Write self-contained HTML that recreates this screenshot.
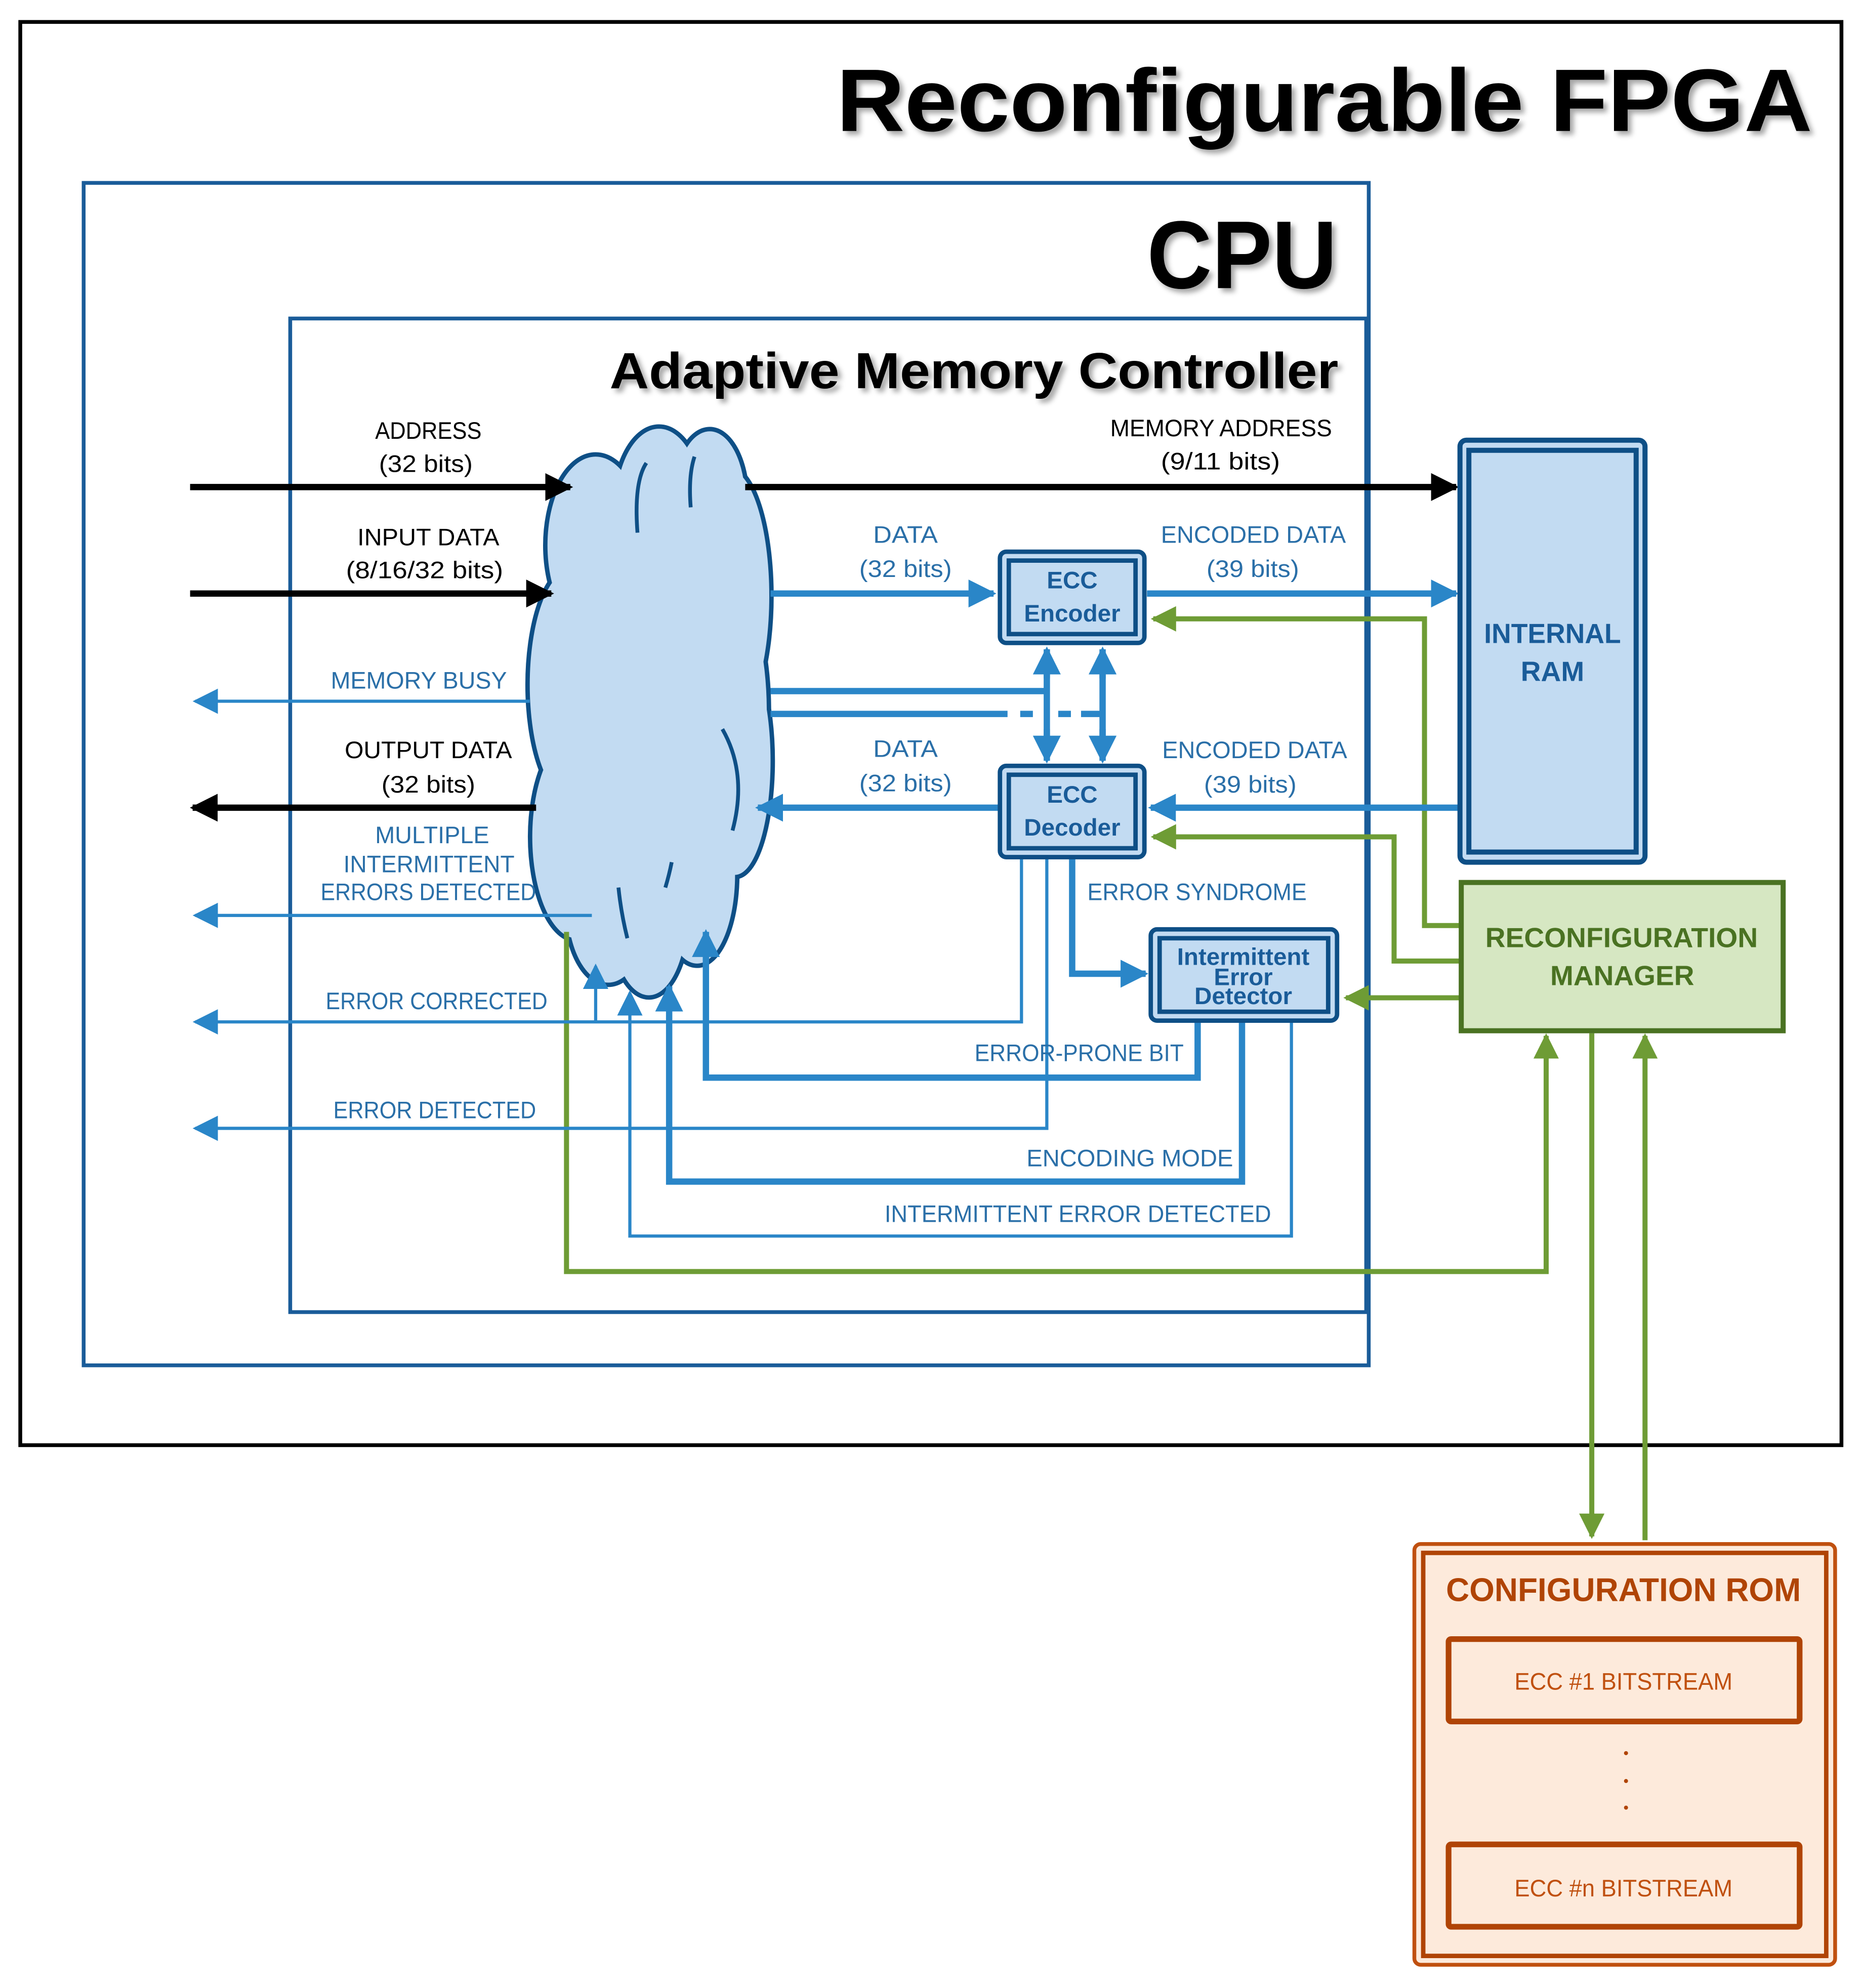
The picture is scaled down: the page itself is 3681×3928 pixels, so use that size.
<!DOCTYPE html>
<html><head><meta charset="utf-8"><style>
html,body{margin:0;padding:0;background:#fff;}
svg{display:block;}
text{font-family:"Liberation Sans",sans-serif;}
</style></head><body>
<svg width="3681" height="3928" viewBox="0 0 1470 1568" xmlns="http://www.w3.org/2000/svg">
<defs>
<marker id="kb" viewBox="0 0 10 10" refX="9" refY="5" markerWidth="22" markerHeight="22" orient="auto" markerUnits="userSpaceOnUse"><path d="M0,0L10,5L0,10z" fill="#000"/></marker>
<marker id="bb" viewBox="0 0 10 10" refX="9" refY="5" markerWidth="22" markerHeight="22" orient="auto" markerUnits="userSpaceOnUse"><path d="M0,0L10,5L0,10z" fill="#2a86c8"/></marker>
<marker id="bs" viewBox="0 0 10 10" refX="9" refY="5" markerWidth="20" markerHeight="20" orient="auto" markerUnits="userSpaceOnUse"><path d="M0,0L10,5L0,10z" fill="#2a86c8"/></marker>
<marker id="gb" viewBox="0 0 10 10" refX="9" refY="5" markerWidth="20" markerHeight="20" orient="auto" markerUnits="userSpaceOnUse"><path d="M0,0L10,5L0,10z" fill="#6e9c35"/></marker>
<filter id="sh" x="-5%" y="-20%" width="110%" height="140%"><feDropShadow dx="3" dy="3" stdDeviation="2" flood-color="#000" flood-opacity="0.35"/></filter>
</defs>

<rect x="16" y="17" width="1437" height="1123" fill="none" stroke="#000" stroke-width="3"/>
<rect x="66" y="144" width="1014" height="933" fill="none" stroke="#1a5c99" stroke-width="3"/>
<rect x="229" y="251" width="849" height="784" fill="none" stroke="#1a5c99" stroke-width="3"/>

<text x="660" y="103" textLength="770" lengthAdjust="spacingAndGlyphs" font-size="70" font-weight="bold" fill="#000" filter="url(#sh)">Reconfigurable FPGA</text>
<text x="905" y="227" textLength="150" lengthAdjust="spacingAndGlyphs" font-size="76" font-weight="bold" fill="#000" filter="url(#sh)">CPU</text>
<text x="481" y="306" textLength="575" lengthAdjust="spacingAndGlyphs" font-size="40" font-weight="bold" fill="#000" filter="url(#sh)">Adaptive Memory Controller</text>

<!-- cloud -->
<g stroke="#0e4f86" stroke-width="7">
<ellipse cx="470" cy="430" rx="38" ry="70"/>
<ellipse cx="520" cy="400" rx="34" ry="62"/>
<ellipse cx="560" cy="395" rx="28" ry="55"/>
<ellipse cx="515" cy="560" rx="90" ry="160"/>
<ellipse cx="450" cy="540" rx="32" ry="90"/>
<ellipse cx="455" cy="660" rx="35" ry="80"/>
<ellipse cx="480" cy="715" rx="32" ry="60"/>
<ellipse cx="512" cy="720" rx="30" ry="65"/>
<ellipse cx="550" cy="690" rx="30" ry="70"/>
<ellipse cx="575" cy="470" rx="32" ry="100"/>
<ellipse cx="580" cy="600" rx="28" ry="90"/>
</g>
<g fill="#c2dbf2">
<ellipse cx="470" cy="430" rx="38" ry="70"/>
<ellipse cx="520" cy="400" rx="34" ry="62"/>
<ellipse cx="560" cy="395" rx="28" ry="55"/>
<ellipse cx="515" cy="560" rx="90" ry="160"/>
<ellipse cx="450" cy="540" rx="32" ry="90"/>
<ellipse cx="455" cy="660" rx="35" ry="80"/>
<ellipse cx="480" cy="715" rx="32" ry="60"/>
<ellipse cx="512" cy="720" rx="30" ry="65"/>
<ellipse cx="550" cy="690" rx="30" ry="70"/>
<ellipse cx="575" cy="470" rx="32" ry="100"/>
<ellipse cx="580" cy="600" rx="28" ry="90"/>
</g>
<g stroke="#0e4f86" stroke-width="3" fill="none">
<path d="M503,420 Q500,380 510,365"/>
<path d="M545,400 Q543,375 548,360"/>
<path d="M570,575 Q590,610 578,655"/>
<path d="M488,700 Q490,720 495,740"/>
<path d="M525,700 Q528,690 530,680"/>
</g>

<!-- green connectors -->
<g stroke="#6e9c35" stroke-width="4" fill="none">
<polyline points="1152,730 1124,730 1124,488 910,488" marker-end="url(#gb)"/>
<polyline points="1152,758 1100,758 1100,660 910,660" marker-end="url(#gb)"/>
<line x1="1152" y1="787" x2="1062" y2="787" marker-end="url(#gb)"/>
<polyline points="447,735 447,1003 1220,1003 1220,817" marker-end="url(#gb)"/>
<line x1="1256" y1="815" x2="1256" y2="1212" marker-end="url(#gb)"/>
<line x1="1298" y1="1215" x2="1298" y2="817" marker-end="url(#gb)"/>
</g>

<g stroke="#2a86c8" stroke-width="2.5" fill="none">
<line x1="418" y1="553" x2="154" y2="553" marker-end="url(#bs)"/>
<line x1="467" y1="722" x2="154" y2="722" marker-end="url(#bs)"/>
<polyline points="806,676 806,806 154,806" marker-end="url(#bs)"/>
<line x1="470" y1="806" x2="470" y2="762" marker-end="url(#bs)"/>
<polyline points="826,676 826,890 154,890" marker-end="url(#bs)"/>
<polyline points="1019,805 1019,975 497,975 497,783" marker-end="url(#bs)"/>
</g>
<g stroke="#2a86c8" stroke-width="5" fill="none">
<line x1="608" y1="468" x2="784" y2="468" marker-end="url(#bb)"/>
<line x1="905" y1="468" x2="1149" y2="468" marker-end="url(#bb)"/>
<line x1="1152" y1="637" x2="908" y2="637" marker-end="url(#bb)"/>
<line x1="789" y1="637" x2="598" y2="637" marker-end="url(#bb)"/>
<line x1="608" y1="545" x2="826" y2="545"/>
<line x1="608" y1="563" x2="795" y2="563"/>
<line x1="805" y1="563" x2="815" y2="563"/>
<line x1="835" y1="563" x2="845" y2="563"/>
<line x1="853" y1="563" x2="870" y2="563"/>
<line x1="826" y1="535" x2="826" y2="512" marker-end="url(#bb)"/>
<line x1="826" y1="575" x2="826" y2="600" marker-end="url(#bb)"/>
<line x1="870" y1="535" x2="870" y2="512" marker-end="url(#bb)"/>
<line x1="870" y1="575" x2="870" y2="600" marker-end="url(#bb)"/>
<line x1="826" y1="530" x2="826" y2="585"/>
<line x1="870" y1="530" x2="870" y2="585"/>
<polyline points="846,676 846,768 904,768" marker-end="url(#bb)"/>
<polyline points="945,805 945,850 557,850 557,735" marker-end="url(#bb)"/>
<polyline points="980,805 980,932 528,932 528,778" marker-end="url(#bb)"/>
</g>

<g stroke="#000" stroke-width="5" fill="none">
<line x1="150" y1="384" x2="450" y2="384" marker-end="url(#kb)"/>
<line x1="588" y1="384" x2="1149" y2="384" marker-end="url(#kb)"/>
<line x1="150" y1="468" x2="435" y2="468" marker-end="url(#kb)"/>
<line x1="423" y1="637" x2="152" y2="637" marker-end="url(#kb)"/>
</g>

<!-- ECC boxes -->
<rect x="789" y="435" width="114" height="72" rx="5" fill="#c2dbf2" stroke="#0e4f86" stroke-width="3.5"/>
<rect x="796" y="442" width="100" height="58" fill="none" stroke="#0e4f86" stroke-width="3.5"/>
<text x="846" y="464" text-anchor="middle" font-size="19" font-weight="bold" fill="#1a5c99">ECC</text>
<text x="846" y="490" text-anchor="middle" font-size="19" font-weight="bold" fill="#1a5c99">Encoder</text>
<rect x="789" y="604" width="114" height="72" rx="5" fill="#c2dbf2" stroke="#0e4f86" stroke-width="3.5"/>
<rect x="796" y="611" width="100" height="58" fill="none" stroke="#0e4f86" stroke-width="3.5"/>
<text x="846" y="633" text-anchor="middle" font-size="19" font-weight="bold" fill="#1a5c99">ECC</text>
<text x="846" y="659" text-anchor="middle" font-size="19" font-weight="bold" fill="#1a5c99">Decoder</text>
<rect x="908" y="733" width="147" height="72" rx="5" fill="#c2dbf2" stroke="#0e4f86" stroke-width="3.5"/>
<rect x="915" y="740" width="133" height="58" fill="none" stroke="#0e4f86" stroke-width="3.5"/>
<text x="981" y="761" text-anchor="middle" font-size="19" font-weight="bold" fill="#1a5c99">Intermittent</text>
<text x="981" y="777" text-anchor="middle" font-size="19" font-weight="bold" fill="#1a5c99">Error</text>
<text x="981" y="792" text-anchor="middle" font-size="19" font-weight="bold" fill="#1a5c99">Detector</text>

<!-- RAM -->
<rect x="1152" y="347" width="146" height="333" rx="5" fill="#c2dbf2" stroke="#0e4f86" stroke-width="4"/>
<rect x="1159" y="355" width="132" height="317" fill="none" stroke="#0e4f86" stroke-width="4"/>
<text x="1171" y="507" textLength="108" lengthAdjust="spacingAndGlyphs" font-size="22" font-weight="bold" fill="#1a5c99">INTERNAL</text>
<text x="1225" y="537" text-anchor="middle" font-size="22" font-weight="bold" fill="#1a5c99">RAM</text>

<rect x="1153" y="696" width="254" height="117" fill="#d6e7c2" stroke="#4a7222" stroke-width="4"/>
<text x="1172" y="747" textLength="215" lengthAdjust="spacingAndGlyphs" font-size="22" font-weight="bold" fill="#4a7222">RECONFIGURATION</text>
<text x="1280" y="777" text-anchor="middle" font-size="22" font-weight="bold" fill="#4a7222">MANAGER</text>

<rect x="1116" y="1218" width="332" height="332" rx="5" fill="#fdeadb" stroke="#c0500f" stroke-width="3"/>
<rect x="1123" y="1225" width="318" height="318" fill="none" stroke="#b04405" stroke-width="3.5"/>
<text x="1141" y="1263" textLength="280" lengthAdjust="spacingAndGlyphs" font-size="26" font-weight="bold" fill="#b04405">CONFIGURATION ROM</text>
<rect x="1143" y="1293" width="277" height="65" rx="2" fill="#fdeadb" stroke="#b04405" stroke-width="4.5"/>
<text x="1195" y="1333" textLength="172" lengthAdjust="spacingAndGlyphs" font-size="19" fill="#c0500f">ECC #1 BITSTREAM</text>
<circle cx="1283" cy="1383" r="1.6" fill="#b04405"/>
<circle cx="1283" cy="1405" r="1.6" fill="#b04405"/>
<circle cx="1283" cy="1426" r="1.6" fill="#b04405"/>
<rect x="1143" y="1455" width="277" height="65" rx="2" fill="#fdeadb" stroke="#b04405" stroke-width="4.5"/>
<text x="1195" y="1496" textLength="172" lengthAdjust="spacingAndGlyphs" font-size="19" fill="#c0500f">ECC #n BITSTREAM</text>

<g font-size="19" fill="#000" lengthAdjust="spacingAndGlyphs">
<text x="296" y="346" textLength="84" lengthAdjust="spacingAndGlyphs">ADDRESS</text>
<text x="299" y="372" textLength="74" lengthAdjust="spacingAndGlyphs">(32 bits)</text>
<text x="282" y="430" textLength="112" lengthAdjust="spacingAndGlyphs">INPUT DATA</text>
<text x="273" y="456" textLength="124" lengthAdjust="spacingAndGlyphs">(8/16/32 bits)</text>
<text x="272" y="598" textLength="132" lengthAdjust="spacingAndGlyphs">OUTPUT DATA</text>
<text x="301" y="625" textLength="74" lengthAdjust="spacingAndGlyphs">(32 bits)</text>
<text x="876" y="344" textLength="175" lengthAdjust="spacingAndGlyphs">MEMORY ADDRESS</text>
<text x="916" y="370" textLength="94" lengthAdjust="spacingAndGlyphs">(9/11 bits)</text>
</g>
<g font-size="19" fill="#2a6fa8">
<text x="261" y="543" textLength="139" lengthAdjust="spacingAndGlyphs">MEMORY BUSY</text>
<text x="296" y="665" textLength="90" lengthAdjust="spacingAndGlyphs">MULTIPLE</text>
<text x="271" y="688" textLength="135" lengthAdjust="spacingAndGlyphs">INTERMITTENT</text>
<text x="253" y="710" textLength="170" lengthAdjust="spacingAndGlyphs">ERRORS DETECTED</text>
<text x="257" y="796" textLength="175" lengthAdjust="spacingAndGlyphs">ERROR CORRECTED</text>
<text x="263" y="882" textLength="160" lengthAdjust="spacingAndGlyphs">ERROR DETECTED</text>
<text x="689" y="428" textLength="51" lengthAdjust="spacingAndGlyphs">DATA</text>
<text x="678" y="455" textLength="73" lengthAdjust="spacingAndGlyphs">(32 bits)</text>
<text x="689" y="597" textLength="51" lengthAdjust="spacingAndGlyphs">DATA</text>
<text x="678" y="624" textLength="73" lengthAdjust="spacingAndGlyphs">(32 bits)</text>
<text x="916" y="428" textLength="146" lengthAdjust="spacingAndGlyphs">ENCODED DATA</text>
<text x="952" y="455" textLength="73" lengthAdjust="spacingAndGlyphs">(39 bits)</text>
<text x="917" y="598" textLength="146" lengthAdjust="spacingAndGlyphs">ENCODED DATA</text>
<text x="950" y="625" textLength="73" lengthAdjust="spacingAndGlyphs">(39 bits)</text>
<text x="858" y="710" textLength="173" lengthAdjust="spacingAndGlyphs">ERROR SYNDROME</text>
<text x="769" y="837" textLength="165" lengthAdjust="spacingAndGlyphs">ERROR-PRONE BIT</text>
<text x="810" y="920" textLength="163" lengthAdjust="spacingAndGlyphs">ENCODING MODE</text>
<text x="698" y="964" textLength="305" lengthAdjust="spacingAndGlyphs">INTERMITTENT  ERROR DETECTED</text>
</g>
</svg>
</body></html>
